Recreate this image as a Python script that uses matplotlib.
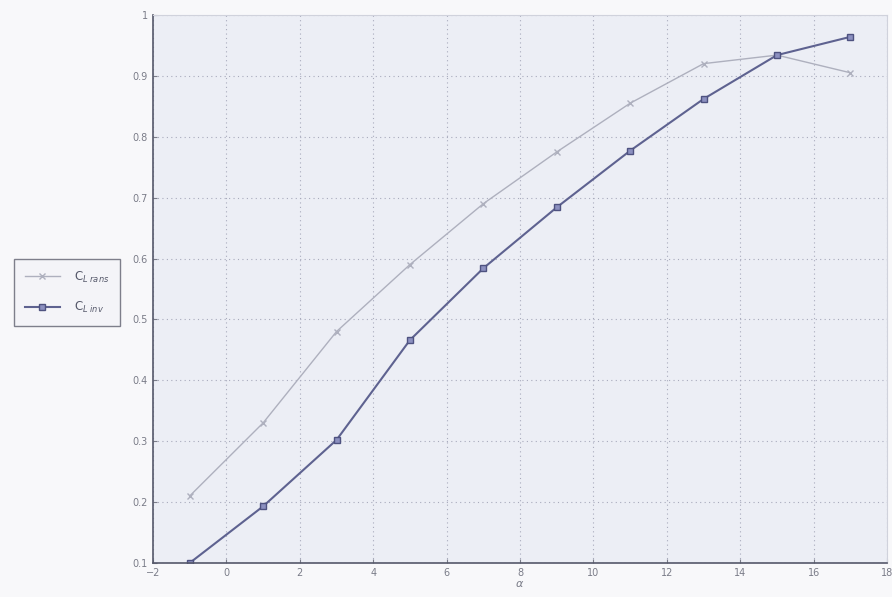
import matplotlib
matplotlib.use("Agg")
import matplotlib.pyplot as plt

# Angle of attack (deg) and lift coefficients
alpha = [-1, 1, 3, 5, 7, 9, 11, 13, 15, 17]
cl_rans = [0.21, 0.33, 0.48, 0.59, 0.69, 0.775, 0.855, 0.92, 0.934, 0.905]
cl_inv = [0.10, 0.193, 0.302, 0.466, 0.584, 0.684, 0.777, 0.862, 0.934, 0.964]

x_ticks = [-2, 0, 2, 4, 6, 8, 10, 12, 14, 16, 18]
y_ticks = [0.1, 0.2, 0.3, 0.4, 0.5, 0.6, 0.7, 0.8, 0.9, 1.0]
y_tick_labels = ["0.1", "0.2", "0.3", "0.4", "0.5", "0.6", "0.7", "0.8", "0.9", "1"]

fig = plt.figure(figsize=(8.92, 5.97), dpi=100, facecolor="#f8f8fa")
ax = fig.add_axes([0.1715, 0.057, 0.823, 0.918])
ax.set_facecolor("#eceef5")

ax.plot(alpha, cl_rans, color="#aeb0be", lw=1.0, marker="x", ms=5, mew=1.0,
        label=r"C$_{L\ rans}$")
ax.plot(alpha, cl_inv, color="#5e6290", lw=1.5, marker="s", ms=5,
        mfc="#8c90c0", mec="#4e5280", label=r"C$_{L\ inv}$")

ax.set_xlim(-2, 18)
ax.set_ylim(0.1, 1.0)
ax.set_xticks(x_ticks)
ax.set_yticks(y_ticks)
ax.set_yticklabels(y_tick_labels)
ax.tick_params(labelsize=7, colors="#7a7c88", length=3, direction="in")
ax.grid(True, linestyle=(0, (1, 3)), color="#a8aabc", lw=0.8)
ax.set_xlabel(r"$\alpha$", fontsize=8, color="#7a7c88", labelpad=1)

for side in ("left", "bottom"):
    ax.spines[side].set_color("#55586a")
    ax.spines[side].set_linewidth(1.2)
for side in ("top", "right"):
    ax.spines[side].set_color("#d0d2dc")
    ax.spines[side].set_linewidth(0.8)

handles, labels = ax.get_legend_handles_labels()
leg = fig.legend(handles, labels, loc="upper left",
                 bbox_to_anchor=(0.009, 1 - 253 / 597), fontsize=8.5,
                 frameon=True, fancybox=False, handlelength=3.0,
                 borderpad=0.9, labelspacing=1.3, handletextpad=1.2,
                 labelcolor="#55586a")
leg.get_frame().set_edgecolor("#606270")
leg.get_frame().set_facecolor("#f3f4f8")
leg.get_frame().set_linewidth(1.0)

fig.savefig("out.png", dpi=100, facecolor=fig.get_facecolor())
